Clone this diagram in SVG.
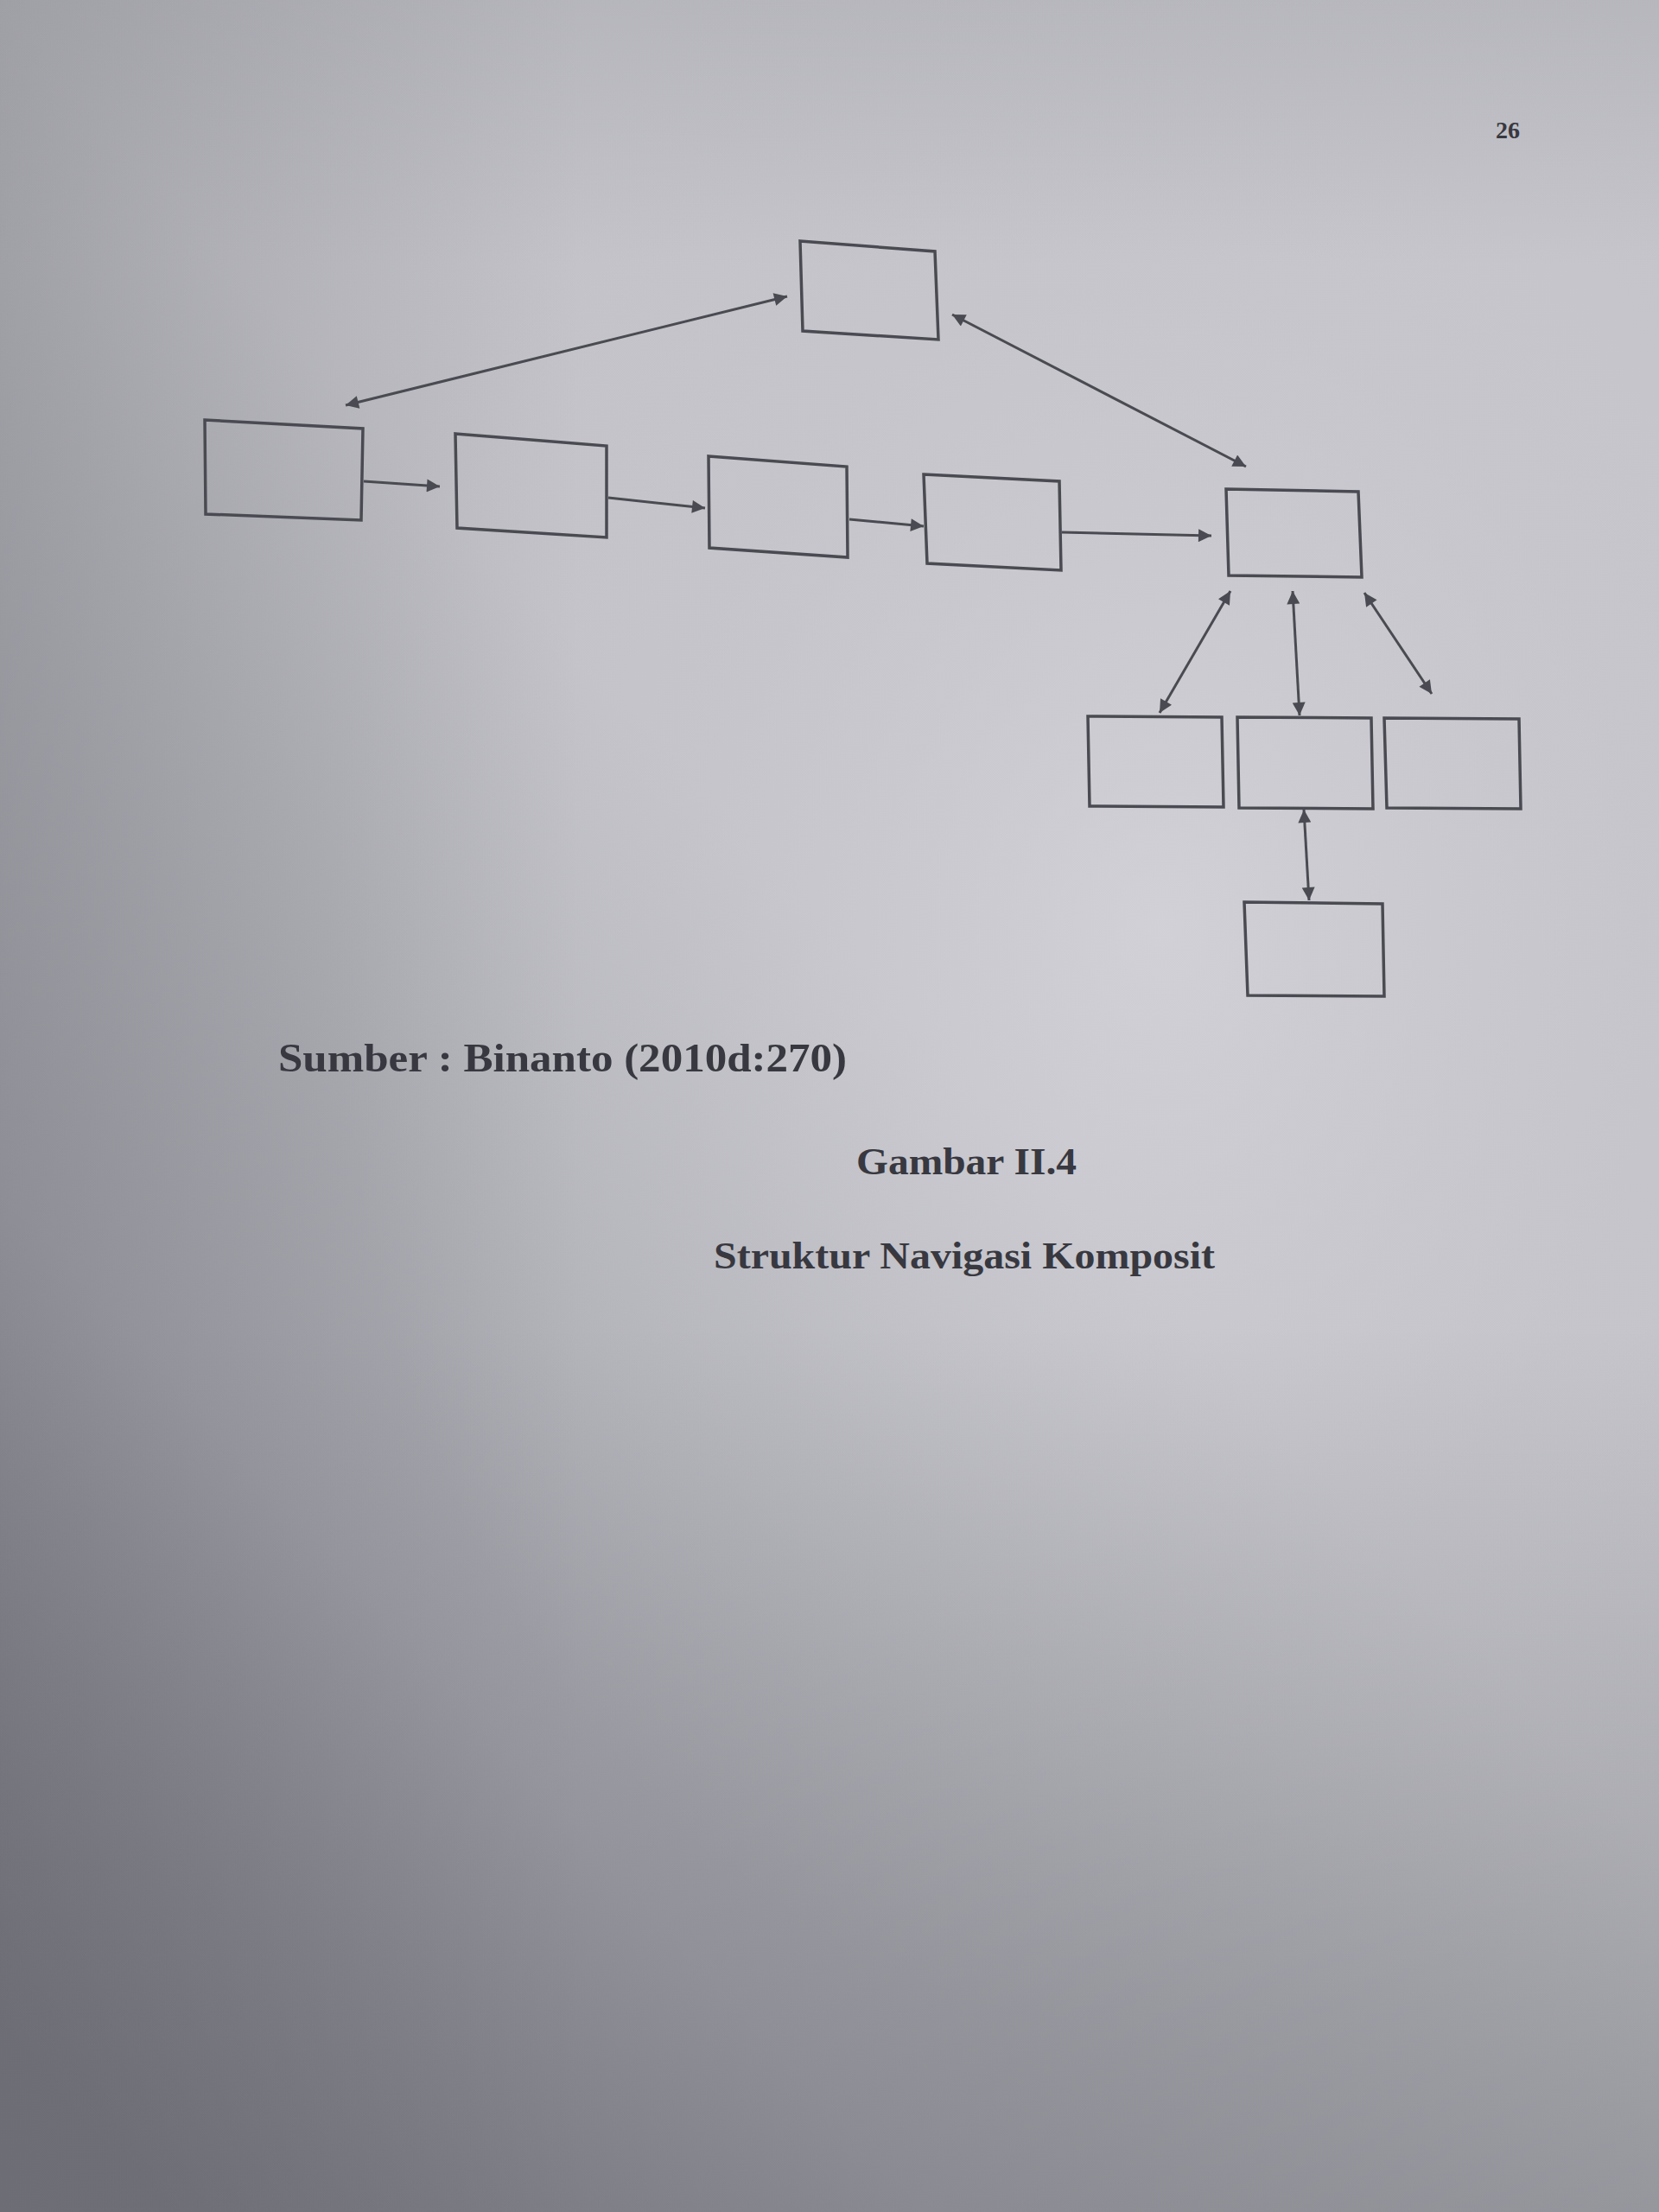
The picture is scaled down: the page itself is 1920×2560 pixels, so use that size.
<svg xmlns="http://www.w3.org/2000/svg" width="1920" height="2560" viewBox="0 0 1920 2560">
<style>
.box{fill:none;stroke:#4a4a52;stroke-width:3.5;stroke-linejoin:miter}
.con{fill:none;stroke:#4a4a52;stroke-width:3}
.txt{font-family:"Liberation Serif","Times New Roman",serif;font-weight:bold;fill:#383840}
</style>
<defs>
<linearGradient id="bg" x1="0.85" y1="0.1" x2="0.1" y2="1">
<stop offset="0" stop-color="#c4c4ca"/>
<stop offset="0.4" stop-color="#c2c2c8"/>
<stop offset="0.75" stop-color="#a2a2aa"/>
<stop offset="1" stop-color="#74747c"/>
</linearGradient>
<radialGradient id="hl" cx="0.7" cy="0.42" r="0.5">
<stop offset="0" stop-color="#d4d4da" stop-opacity="0.8"/>
<stop offset="0.6" stop-color="#cacad0" stop-opacity="0.3"/>
<stop offset="1" stop-color="#cacad0" stop-opacity="0"/>
</radialGradient>
<linearGradient id="lft" x1="0" y1="0" x2="1" y2="0">
<stop offset="0" stop-color="#606068" stop-opacity="0.3"/>
<stop offset="0.35" stop-color="#606068" stop-opacity="0"/>
</linearGradient>
<linearGradient id="top" x1="0" y1="0" x2="0" y2="1">
<stop offset="0" stop-color="#8e8e96" stop-opacity="0.25"/>
<stop offset="0.12" stop-color="#8e8e96" stop-opacity="0"/>
</linearGradient>
<linearGradient id="bot" x1="0" y1="0" x2="0" y2="1">
<stop offset="0.6" stop-color="#6c6c74" stop-opacity="0"/>
<stop offset="1" stop-color="#6c6c74" stop-opacity="0.45"/>
</linearGradient>
<marker id="ah" viewBox="0 0 10 10" refX="10" refY="5" markerWidth="20" markerHeight="15" markerUnits="userSpaceOnUse" orient="auto-start-reverse">
<path d="M0,0 L10,5 L0,10 z" fill="#4a4a52"/>
</marker>
</defs>
<rect width="1920" height="2560" fill="url(#bg)"/>
<rect width="1920" height="2560" fill="url(#hl)"/>
<rect width="1920" height="2560" fill="url(#lft)"/>
<rect width="1920" height="2560" fill="url(#top)"/>
<rect width="1920" height="2560" fill="url(#bot)"/>

<text class="txt" x="1731" y="160" font-size="28" fill="#66666e">26</text>

<g id="node-top"><polygon class="box" points="926,279 1082,291 1086,393 929,383"/></g>
<g id="node-a"><polygon class="box" points="237,486 420,496 418,602 238,595"/></g>
<g id="node-b"><polygon class="box" points="527,502 702,516 702,622 529,611"/></g>
<g id="node-c"><polygon class="box" points="820,528 980,540 981,645 821,634"/></g>
<g id="node-d"><polygon class="box" points="1069,549 1226,557 1228,660 1073,652"/></g>
<g id="node-e"><polygon class="box" points="1419,566 1572,569 1576,668 1422,666"/></g>
<g id="node-c1"><polygon class="box" points="1259,829 1414,830 1416,934 1261,933"/></g>
<g id="node-c2"><polygon class="box" points="1432,830 1587,831 1589,936 1434,935"/></g>
<g id="node-c3"><polygon class="box" points="1602,831 1758,832 1760,936 1605,935"/></g>
<g id="node-bottom"><polygon class="box" points="1440,1044 1600,1046 1602,1153 1444,1152"/></g>

<g id="connectors">
<line class="con" x1="400" y1="469" x2="911" y2="343" marker-start="url(#ah)" marker-end="url(#ah)"/>
<line class="con" x1="1102" y1="364" x2="1442" y2="540" marker-start="url(#ah)" marker-end="url(#ah)"/>
<line class="con" x1="421" y1="557" x2="509" y2="563" marker-end="url(#ah)"/>
<line class="con" x1="704" y1="576" x2="816" y2="588" marker-end="url(#ah)"/>
<line class="con" x1="983" y1="601" x2="1069" y2="609" marker-end="url(#ah)"/>
<line class="con" x1="1229" y1="616" x2="1402" y2="620" marker-end="url(#ah)"/>
<line class="con" x1="1424" y1="684" x2="1342" y2="825" marker-start="url(#ah)" marker-end="url(#ah)"/>
<line class="con" x1="1496" y1="684" x2="1504" y2="828" marker-start="url(#ah)" marker-end="url(#ah)"/>
<line class="con" x1="1579" y1="686" x2="1657" y2="803" marker-start="url(#ah)" marker-end="url(#ah)"/>
<line class="con" x1="1509" y1="937" x2="1515" y2="1042" marker-start="url(#ah)" marker-end="url(#ah)"/>
</g>

<text class="txt" x="322" y="1240" font-size="46" textLength="658" lengthAdjust="spacingAndGlyphs">Sumber : Binanto (2010d:270)</text>
<text class="txt" x="991" y="1359" font-size="44" textLength="255" lengthAdjust="spacingAndGlyphs">Gambar II.4</text>
<text class="txt" x="826" y="1468" font-size="44" textLength="580" lengthAdjust="spacingAndGlyphs">Struktur Navigasi Komposit</text>
</svg>
